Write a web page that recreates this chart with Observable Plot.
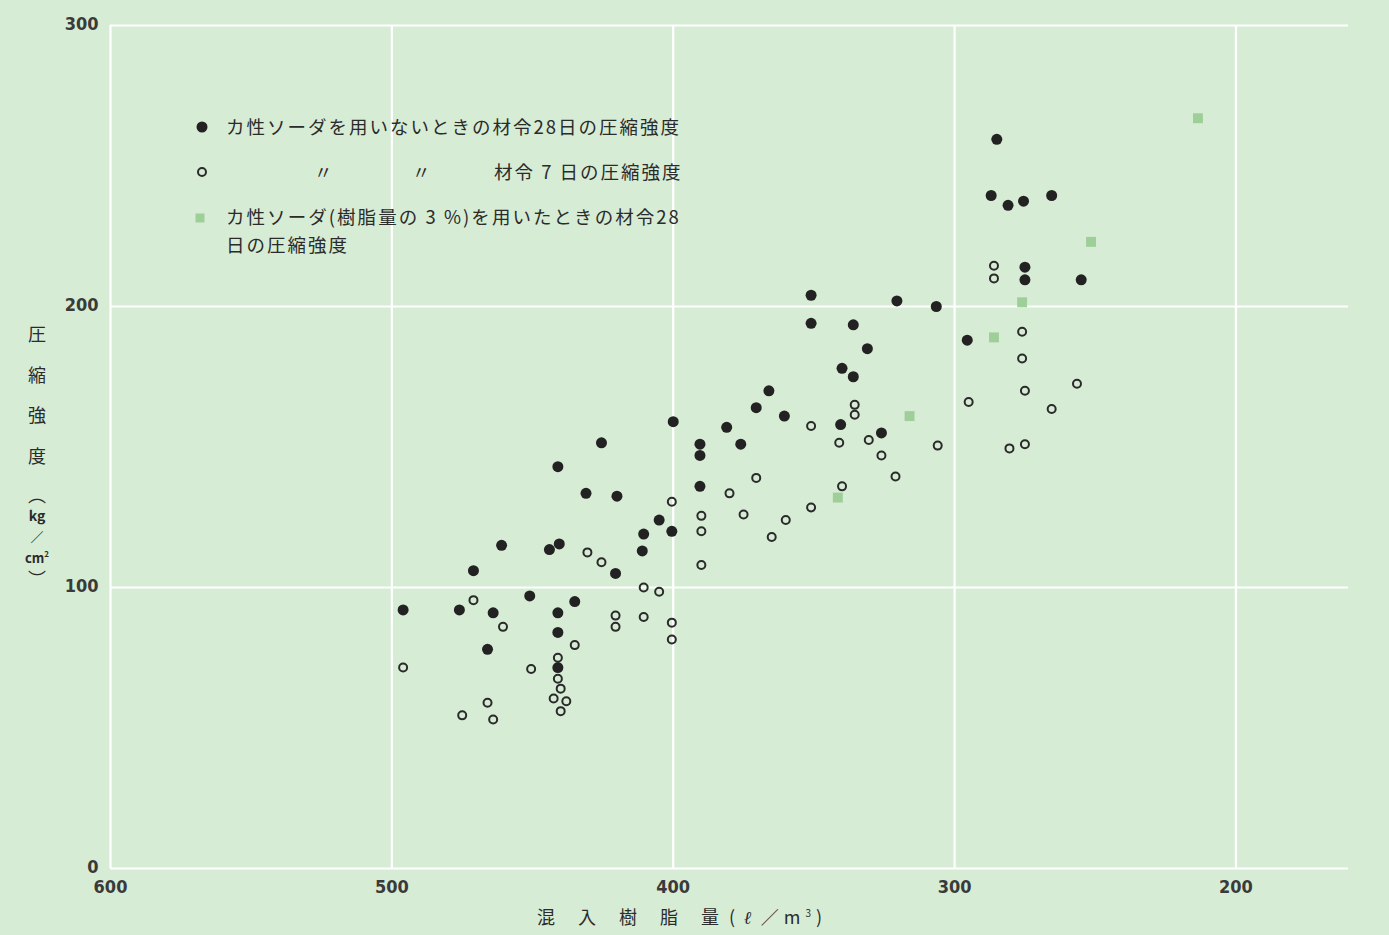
<!DOCTYPE html>
<html>
<head>
<meta charset="utf-8">
<script src="https://cdn.jsdelivr.net/npm/d3@7"></script>
<script src="https://cdn.jsdelivr.net/npm/@observablehq/plot@0.6"></script>
<style>
  html, body { margin: 0; padding: 0; background: #d7ecd5; }
  #wrap { position: relative; width: 1389px; height: 935px; overflow: hidden; background: #d7ecd5; }
  #chart { position: absolute; left: 0; top: 0; }
  #chart svg text { font-stretch: condensed; }
  .ov { position: absolute; font-family: "Noto Sans CJK JP", "Noto Sans", sans-serif; color: #2b2b2b; white-space: nowrap; }
  .leg { font-size: 18.5px; letter-spacing: 2px; line-height: 1; }
  .yl { font-size: 18px; width: 40px; text-align: center; line-height: 1; transform: translate(-50%, -50%); }
  .sym { position: absolute; transform: translate(-50%, -50%); }
</style>
</head>
<body>
<div id="wrap">
  <div id="chart"></div>
</div>
<script>
// 混入樹脂量 (ℓ/m³) and 圧縮強度 (kg/cm²)
// カ性ソーダを用いないときの材令28日の圧縮強度
const filledX = [496,476,471,464,466,461,451,444,440.5,441,441,441,441,435,431,425.5,420,420.5,411,410.5,405,400.5,400,390.5,390.5,390.5,381,376,370.5,366,360.5,351,351,340,336,336,331,340.5,326,320.5,306.5,295.5,285,287,281,275.5,265.5,275,275,255];
const filledY = [92,92,106,91,78,115,97,113.5,115.5,143,91,84,71.5,95,133.5,151.5,132.5,105,113,119,124,120,159,151,147,136,157,151,164,170,161,204,194,178,193.5,175,185,158,155,202,200,188,259.5,239.5,236,237.5,239.5,214,209.5,209.5];
// 〃 材令7日の圧縮強度
const openX = [496,475,466,464,450.5,441,441,440,442.5,438,440,471,460.5,435,430.5,425.5,420.5,420.5,410.5,405,410.5,400.5,400.5,400.5,390,390,390,380,375,370.5,365,360,351,351,341,340,335.5,335.5,330.5,326,321,306,295,286,286,276,276,275,256.5,265.5,280.5,275];
const openY = [71.5,54.5,59,53,71,75,67.5,64,60.5,59.5,56,95.5,86,79.5,112.5,109,90,86,100,98.5,89.5,87.5,81.5,130.5,125.5,120,108,133.5,126,139,118,124,128.5,157.5,151.5,136,165,161.5,152.5,147,139.5,150.5,166,214.5,210,191,181.5,170,172.5,163.5,149.5,151];
// カ性ソーダ(樹脂量の3%)を用いたときの材令28日の圧縮強度
const sodaX = [341.5,316,286,276,251.5,213.5];
const sodaY = [132,161,189,201.5,223,267];

const xTicks = [600, 500, 400, 300, 200];
const yTicks = [0, 100, 200, 300];

const filled = filledX.map((x, i) => ({x, y: filledY[i]}));
const open = openX.map((x, i) => ({x, y: openY[i]}));
const soda = sodaX.map((x, i) => ({x, y: sodaY[i]}));

const chart = Plot.plot({
  width: 1389,
  height: 935,
  marginLeft: 110,
  marginRight: 41,
  marginTop: 25,
  marginBottom: 67,
  style: {background: "transparent", fontFamily: "'Liberation Sans Narrow', 'DejaVu Sans Condensed', 'DejaVu Sans', sans-serif", fontSize: "18px", color: "#333"},
  x: {domain: [600, 160], ticks: xTicks, label: null, tickSize: 0, tickPadding: 12},
  y: {domain: [0, 300], ticks: yTicks, label: null, tickSize: 0, tickPadding: 12},
  marks: [
    Plot.ruleX(xTicks, {stroke: "white", strokeWidth: 2.2}),
    Plot.ruleY(yTicks, {stroke: "white", strokeWidth: 2.2}),
    Plot.axisX({ticks: xTicks, tickSize: 0, tickPadding: 12, label: null, fontSize: 18, fontWeight: "bold", fill: "#3a3a3a"}),
    Plot.axisY({ticks: yTicks, tickSize: 0, tickPadding: 12, label: null, fontSize: 18, fontWeight: "bold", fill: "#3a3a3a", dy: -1}),
    Plot.dot(soda, {x: "x", y: "y", symbol: "square", r: 5.6, fill: "#9fcf99", stroke: "none"}),
    Plot.dot(open, {x: "x", y: "y", r: 4, fill: "none", stroke: "#2a2a2a", strokeWidth: 2}),
    Plot.dot(filled, {x: "x", y: "y", r: 5.5, fill: "#222", stroke: "none"})
  ]
});
document.getElementById("chart").appendChild(chart);

const wrap = document.getElementById("wrap");
function addDiv(cls, html, css) {
  const d = document.createElement("div");
  d.className = cls;
  d.innerHTML = html;
  Object.assign(d.style, css);
  wrap.appendChild(d);
  return d;
}

// Legend
addDiv("sym", "", {left: "202px", top: "127px", width: "11px", height: "11px", borderRadius: "50%", background: "#222"});
addDiv("sym", "", {left: "202px", top: "172px", width: "6px", height: "6px", borderRadius: "50%", border: "2px solid #2a2a2a"});
addDiv("sym", "", {left: "200px", top: "218px", width: "9px", height: "9px", background: "#9fcf99"});

addDiv("ov leg", "カ性ソーダを用いないときの材令28日の圧縮強度", {left: "226px", top: "117px"});
addDiv("ov leg", "〃", {left: "314px", top: "162px"});
addDiv("ov leg", "〃", {left: "412px", top: "162px"});
addDiv("ov leg", "材令 7 日の圧縮強度", {left: "494px", top: "162px"});
addDiv("ov leg", "カ性ソーダ(樹脂量の 3 %)を用いたときの材令28", {left: "226px", top: "207px", letterSpacing: "2.05px"});
addDiv("ov leg", "日の圧縮強度", {left: "226px", top: "235px"});

// Y axis label (vertical)
const yLab = [["圧", 333, 18], ["縮", 374, 18], ["強", 414, 18], ["度", 455, 18], ["︵", 494, 18], ["kg", 515, 14], ["／", 536, 13], ["cm<sup style='font-size:8px'>2</sup>", 557, 13], ["︶", 578, 18]];
yLab.forEach(([t, y, fs]) => {
  const small = (t.startsWith("kg") || t.startsWith("cm"));
  addDiv("ov yl", t, {left: "37px", top: y + "px", fontSize: fs + "px", fontWeight: small ? "bold" : "normal"});
});

// X axis label
addDiv("ov", "<span style='letter-spacing:23px'>混入樹脂</span>量<span style='margin-left:10px;letter-spacing:5px'>(<i style='font-family:DejaVu Serif;font-weight:bold;margin:0 4px'>ℓ</i>／m<sup style='font-size:10px'>3</sup>)</span>",
  {left: "537px", top: "907px", fontSize: "18px", lineHeight: "1"});
</script>
</body>
</html>
